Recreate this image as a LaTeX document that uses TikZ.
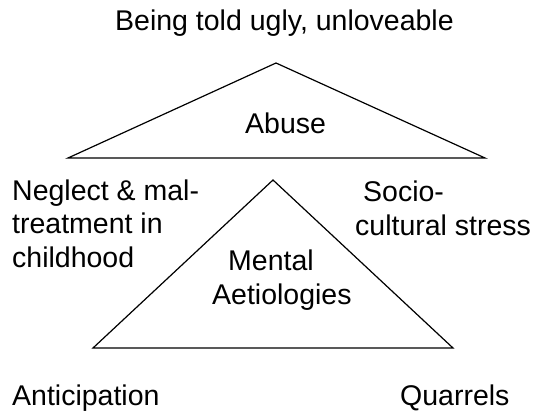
\documentclass[tikz,border=0pt]{standalone}
\usepackage{fontspec}
\setmainfont{Liberation Sans}

\begin{document}
\begin{tikzpicture}[x=1pt, y=-1pt,
    lbl/.style={inner sep=0pt, anchor=base west, font=\fontsize{28.5}{33.5}\selectfont}]
    \useasboundingbox (0,0) rectangle (541,412);
    % upper triangle
    \coordinate (abtop) at (276,63);
    \coordinate (ableft) at (68,158);
    \coordinate (abright) at (485,158);
    \draw[line width=1.2pt] (abtop) -- (ableft) -- (abright) -- cycle;
    % lower triangle
    \coordinate (mtop) at (273,180);
    \coordinate (mleft) at (93,348);
    \coordinate (mright) at (453,348);
    \draw[line width=1.2pt] (mtop) -- (mleft) -- (mright) -- cycle;
    \node[lbl] (told) at (115,31) {Being told ugly, unloveable};
    \node[lbl] (abuse) at (245,133) {Abuse};
    \node[lbl, align=left] (neglect) at (12,267) {Neglect \& mal-\\treatment in\\childhood};
    \node[lbl, align=left] (socio) at (355,235) {\hspace*{8pt}Socio-\\cultural stress};
    \node[lbl] (mental) at (228,270) {Mental};
    \node[lbl] (aetio) at (212,304) {Aetiologies};
    \node[lbl] (antic) at (12,405) {Anticipation};
    \node[lbl] (quarrels) at (400,405) {Quarrels};
\end{tikzpicture}
\end{document}
